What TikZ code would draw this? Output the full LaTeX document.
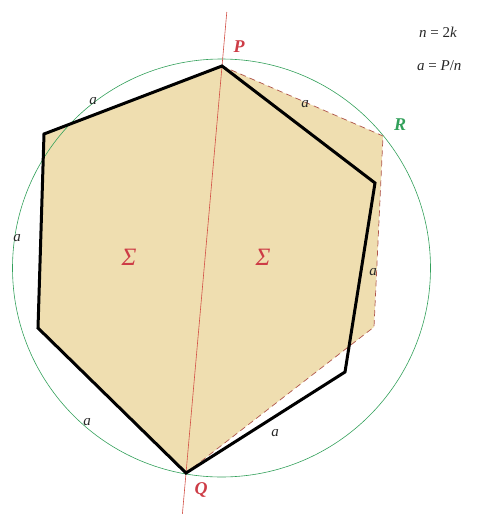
\documentclass[tikz,border=0pt]{standalone}
\usepackage{fontspec}
\setmainfont{Liberation Serif}
\usetikzlibrary{calc}
\definecolor{hexFill}{RGB}{239,222,176}
\definecolor{cGreen}{RGB}{50,160,90}
\definecolor{lRed}{RGB}{205,60,70}
\definecolor{axRed}{RGB}{210,80,70}
\definecolor{dRed}{RGB}{175,85,75}

\begin{document}
\begin{tikzpicture}[x=1pt,y=-1pt,
  side/.style={font=\fontsize{15}{17}\selectfont\itshape,text=black!85,inner sep=1pt},
  vlab/.style={font=\fontsize{18}{20}\selectfont\bfseries\itshape,inner sep=1pt},
  area/.style={font=\fontsize{25}{28}\selectfont\itshape,text=lRed},
  poly/.style={line width=3pt,line join=miter},
  mirror/.style={draw=dRed,dashed,dash pattern=on 6pt off 4pt,line width=0.7pt}]
  \useasboundingbox (0,0) rectangle (480,514);
  % vertices
  \coordinate (P) at (222,66);
  \coordinate (v1) at (375,183);
  \coordinate (v2) at (345,372);
  \coordinate (Q) at (186,473);
  \coordinate (v4) at (38,328);
  \coordinate (v5) at (44,134);
  \coordinate (R) at (383,136);
  \coordinate (w2) at (374,327);
  \coordinate (O) at (221.5,268);
  \coordinate (top) at (226.8,12);
  \coordinate (bot) at (182.4,514);
  % shaded part
  \fill[hexFill] (P) -- (R) -- (w2) -- (Q) -- (v4) -- (v5) -- cycle;
  \draw[cGreen,line width=0.6pt] (O) circle[radius=209pt];
  \draw[axRed,line width=0.6pt] (top) -- (bot);
  \draw[mirror] (P) -- (R) -- (w2) -- (Q);
  \draw[poly] (P) -- (v1) -- (v2) -- (Q) -- (v4) -- (v5) -- cycle;
  % labels
  \node[vlab,text=lRed] (lP) at (239,47) {P};
  \node[vlab,text=cGreen] (lR) at (400,125) {R};
  \node[vlab,text=lRed] (lQ) at (201,490) {Q};
  \node[area] (s1) at (129,257) {Σ};
  \node[area] (s2) at (263,257) {Σ};
  \node[side] (a1) at (93,101) {a};
  \node[side] (a2) at (305,104) {a};
  \node[side] (a3) at (17,238) {a};
  \node[side] (a4) at (373,272) {a};
  \node[side] (a5) at (87,422) {a};
  \node[side] (a6) at (275,433) {a};
  \node[side,font=\fontsize{15}{17}\selectfont,anchor=west] (eq1) at (418,32) {\textit{n} = 2\textit{k}};
  \node[side,font=\fontsize{15}{17}\selectfont,anchor=west] (eq2) at (416,66) {\textit{a} = \textit{P}/\textit{n}};
\end{tikzpicture}
\end{document}
